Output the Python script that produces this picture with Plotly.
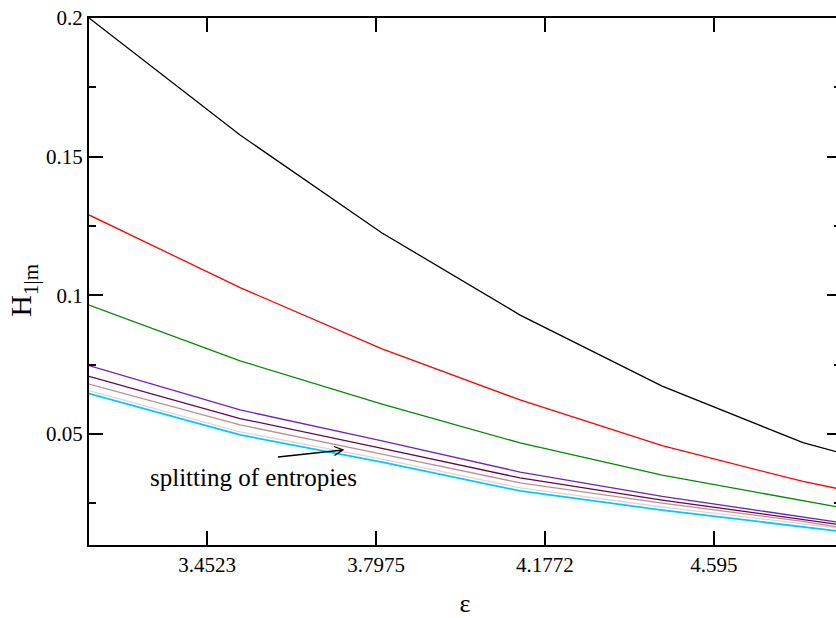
import numpy as np
import plotly.graph_objects as go

# x values (epsilon) at the polyline vertices
eps = [3.2298, 3.5172, 3.8104, 4.1191, 4.4628, 4.8318, 4.9366]

# H_{1|m} series
h_black  = [0.2000, 0.1578, 0.1225, 0.0929, 0.0673, 0.0469, 0.0432]
h_red    = [0.1290, 0.1028, 0.0807, 0.0623, 0.0458, 0.0329, 0.0301]
h_green  = [0.0965, 0.0764, 0.0608, 0.0468, 0.0352, 0.0260, 0.0235]
h_indigo = [0.0747, 0.0587, 0.0475, 0.0363, 0.0275, 0.0203, 0.0181]
h_maroon = [0.0708, 0.0556, 0.0448, 0.0342, 0.0262, 0.0192, 0.0173]
h_brown  = [0.0680, 0.0533, 0.0428, 0.0324, 0.0251, 0.0185, 0.0163]
h_grey   = [0.0657, 0.0508, 0.0410, 0.0306, 0.0237, 0.0176, 0.0160]
h_cyan   = [0.0646, 0.0497, 0.0399, 0.0295, 0.0226, 0.0165, 0.0149]

series = [
    (h_black, "#000000", 1.3),
    (h_red, "#ff0000", 1.3),
    (h_green, "#008b00", 1.3),
    (h_indigo, "#7221bc", 1.3),
    (h_maroon, "#670748", 1.3),
    (h_brown, "#bc8f8f", 1.3),
    (h_grey, "#d8d8d8", 1.3),
    (h_cyan, "#00c8ff", 1.8),
]

x_ticks = [3.4523, 3.7975, 4.1772, 4.595]
x_tick_text = ["3.4523", "3.7975", "4.1772", "4.595"]
y_ticks = [0.05, 0.1, 0.15, 0.2]
y_tick_text = ["0.05", "0.1", "0.15", "0.2"]
y_minor = [0.025, 0.075, 0.125, 0.175]

x_range = [3.2298, 4.9366]
y_range = [0.01, 0.2]

FONT = "Liberation Serif, Times New Roman, serif"

fig = go.Figure()
for vals, col, w in series:
    fig.add_trace(go.Scatter(x=eps, y=vals, mode="lines",
                             line=dict(color=col, width=w),
                             showlegend=False, hoverinfo="skip"))

fig.update_layout(
    width=842, height=618,
    margin=dict(l=89, r=1, t=18, b=73),
    paper_bgcolor="white", plot_bgcolor="white",
    font=dict(family=FONT, size=21, color="black"),
    showlegend=False,
)
fig.update_xaxes(
    type="log", range=[np.log10(x_range[0]), np.log10(x_range[1])],
    tickmode="array", tickvals=x_ticks, ticktext=x_tick_text,
    ticks="inside", ticklen=14, tickwidth=1.5, tickcolor="black",
    showline=True, linewidth=2, linecolor="black", mirror="allticks",
    showgrid=False, zeroline=False,
    tickfont=dict(family=FONT, size=21),
    title=dict(text="ε", font=dict(family=FONT, size=26), standoff=18),
    automargin=False,
)
fig.update_yaxes(
    range=y_range,
    tickmode="array", tickvals=y_ticks, ticktext=y_tick_text,
    ticks="inside", ticklen=14, tickwidth=1.5, tickcolor="black",
    minor=dict(tickvals=y_minor, ticks="inside", ticklen=7, tickwidth=1.5, tickcolor="black"),
    showline=True, linewidth=2, linecolor="black", mirror="allticks",
    showgrid=False, zeroline=False,
    tickfont=dict(family=FONT, size=21),
    automargin=False,
)

# y axis title placed as an annotation (sits closer to the tick labels than an axis title can)
fig.add_annotation(x=-0.0878, y=0.4845, xref="paper", yref="paper",
                   text="H<sub>1|m</sub>", textangle=-90, showarrow=False,
                   font=dict(family=FONT, size=30), xanchor="center", yanchor="middle")

# annotation text
fig.add_annotation(x=np.log10(3.5431), y=0.0345, xref="x", yref="y",
                   text="splitting of entropies", showarrow=False,
                   font=dict(family=FONT, size=25), xanchor="center", yanchor="middle")

# arrow (paper coordinates of the plot area)
def px2paper(px, py):
    return (px - 89) / 752.0, (545 - py) / 527.0

tx, ty = px2paper(278, 457)
hx, hy = px2paper(343, 450)
w1x, w1y = px2paper(334, 446.5)
w2x, w2y = px2paper(334.5, 455.5)
fig.add_shape(type="path", xref="paper", yref="paper",
              path=f"M {tx} {ty} L {hx} {hy} M {w1x} {w1y} L {hx} {hy} L {w2x} {w2y}",
              line=dict(color="black", width=1.3))

fig.write_html("out.html",
               config={"displayModeBar": False},
               post_script="document.body.style.margin='0';document.body.style.overflow='hidden';")
